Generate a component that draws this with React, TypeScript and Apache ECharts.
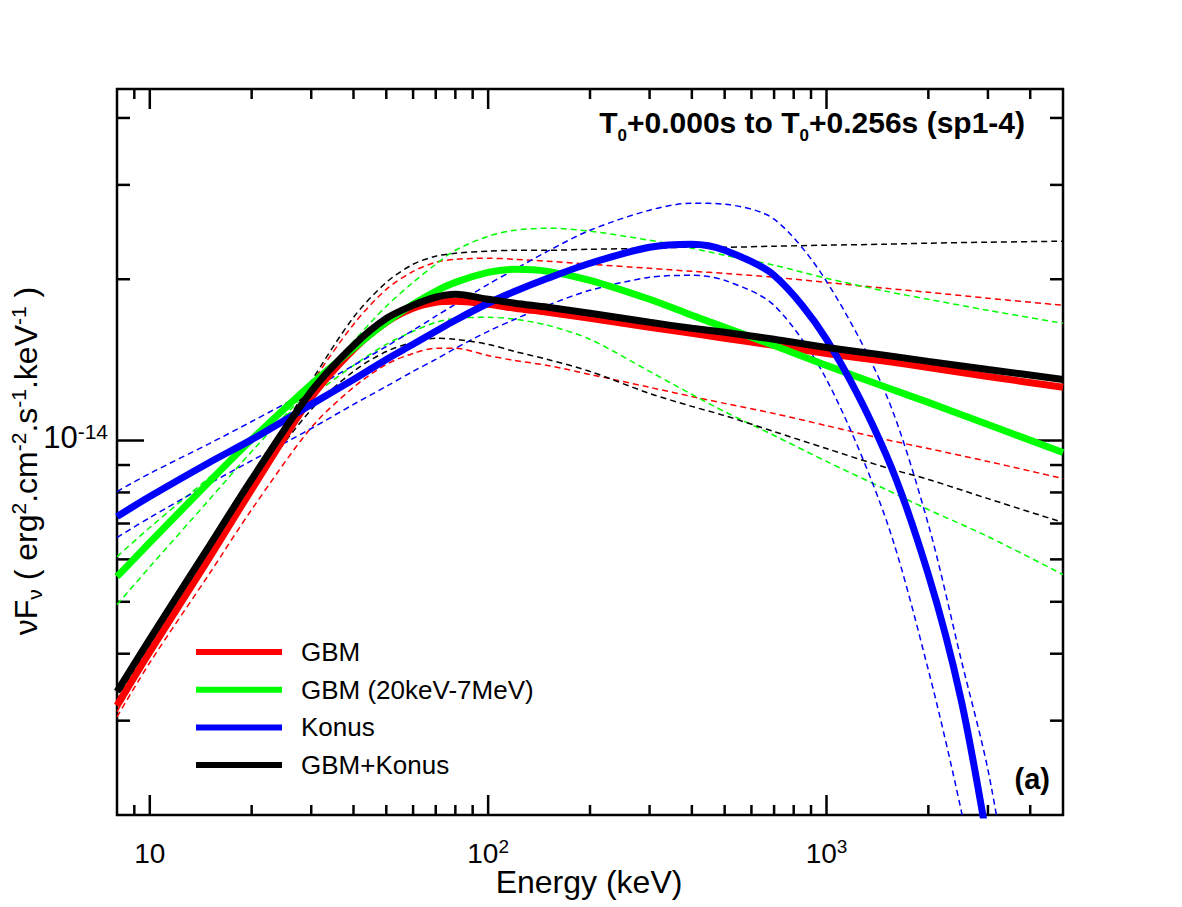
import React, { useEffect, useRef } from 'react';
import * as echarts from 'echarts';

const FONT = '"Liberation Sans", Arial, Helvetica, sans-serif';

// Photon energy grid (keV) for the GBM, GBM (20keV-7MeV) and GBM+Konus curves
const energies = [8, 10, 15, 20, 30, 40, 50, 60, 70, 80, 100, 120, 150, 200, 300, 400, 500, 700, 1000, 1500, 2000, 3000, 5000];
// Konus curves cut off above ~1 MeV and are sampled until they leave the frame
const konusEnergies = [8, 10, 15, 20, 30, 40, 50, 60, 70, 80, 100, 120, 150, 200, 300, 400, 500, 700, 1000, 1500, 2000, 2500, 3000];
const konusUpperEnergies = [8, 10, 15, 20, 30, 40, 50, 60, 70, 80, 100, 120, 150, 200, 300, 400, 500, 700, 1000, 1500, 2000, 2500, 3000, 3500];

// νFν values, in units of 1e-15
const gbmFit = [3.20, 4.03, 6.04, 8.10, 12.03, 14.79, 16.62, 17.65, 18.11, 18.19, 17.96, 17.65, 17.35, 16.91, 16.26, 15.85, 15.52, 15.05, 14.54, 14.05, 13.69, 13.17, 12.57];
const gbmUpper = [3.12, 3.98, 6.12, 8.31, 12.73, 16.47, 19.15, 20.69, 21.51, 21.79, 21.89, 21.79, 21.61, 21.33, 20.96, 20.69, 20.51, 20.17, 19.73, 19.23, 18.91, 18.43, 17.88];
const gbmLower = [3.05, 3.85, 5.64, 7.43, 10.57, 12.57, 13.87, 14.54, 14.86, 14.86, 14.41, 14.10, 13.81, 13.28, 12.57, 12.08, 11.73, 11.23, 10.66, 10.04, 9.66, 9.14, 8.49];

const gbmHighFit = [5.57, 6.45, 8.38, 10.04, 12.73, 14.86, 16.62, 17.96, 18.99, 19.73, 20.60, 20.87, 20.69, 19.91, 18.35, 17.13, 16.26, 15.05, 13.81, 12.57, 11.78, 10.71, 9.50];
const gbmHighUpper = [4.94, 5.81, 7.76, 9.54, 12.57, 15.32, 17.81, 19.73, 21.33, 22.65, 24.06, 24.69, 24.91, 24.59, 23.65, 22.85, 22.17, 21.24, 20.08, 18.99, 18.35, 17.50, 16.55];
const gbmHighLower = [6.07, 6.88, 8.53, 9.92, 12.08, 13.81, 15.12, 15.99, 16.62, 16.91, 16.98, 16.84, 16.41, 15.45, 13.46, 12.19, 11.32, 10.22, 9.14, 8.10, 7.43, 6.62, 5.62];

const konusFit = [7.21, 7.86, 9.10, 10.04, 11.68, 13.00, 14.17, 15.12, 15.99, 16.77, 18.04, 18.99, 20.08, 21.42, 22.95, 23.25, 22.65, 20.34, 15.45, 9.41, 5.62, 3.28, 1.76];
const konusUpper = [8.03, 8.68, 9.87, 10.85, 12.45, 13.81, 14.98, 16.06, 17.06, 17.96, 19.57, 20.87, 22.56, 24.69, 26.91, 27.73, 27.61, 25.89, 19.82, 12.19, 6.97, 3.90, 2.43, 1.39];
const konusLower = [6.59, 7.18, 8.31, 9.17, 10.53, 11.68, 12.62, 13.46, 14.17, 14.86, 15.99, 16.84, 17.88, 19.07, 20.17, 20.34, 19.91, 17.88, 13.00, 7.12, 3.73, 2.04, 1.12];

const jointFit = [3.40, 4.26, 6.36, 8.46, 12.35, 15.05, 16.90, 17.88, 18.51, 18.75, 18.35, 18.04, 17.73, 17.28, 16.62, 16.20, 15.92, 15.45, 14.92, 14.42, 14.05, 13.57, 13.00];
const jointUpper = [3.28, 4.16, 6.26, 8.42, 12.89, 16.98, 19.73, 21.33, 22.08, 22.36, 22.56, 22.65, 22.65, 22.75, 22.85, 22.95, 22.95, 23.05, 23.15, 23.25, 23.35, 23.45, 23.55];
const jointLower = [3.45, 4.32, 6.31, 8.20, 11.42, 13.46, 14.66, 15.25, 15.52, 15.45, 15.12, 14.66, 14.17, 13.46, 12.24, 11.58, 11.13, 10.39, 9.66, 8.90, 8.46, 7.79, 7.03];

// Axis ranges and tick positions
const X_MIN = 8;
const X_MAX = 5000;
const Y_MIN = 2e-15;
const Y_MAX = 4.53e-14;
const xMajorTicks = [10, 100, 1000];
const xMinorTicks = [9, 20, 30, 40, 50, 60, 70, 80, 90, 200, 300, 400, 500, 600, 700, 800, 900, 2000, 3000, 4000];
const yMajorTicks = [1e-14];
const yMinorTicks = [3e-15, 4e-15, 5e-15, 6e-15, 7e-15, 8e-15, 9e-15, 2e-14, 3e-14, 4e-14];

const RED = '#ff0000';
const GREEN = '#00ff00';
const BLUE = '#0000ff';
const BLACK = '#000000';

const toPairs = (xs: number[], ys: number[]) => xs.map((x, i) => [x, ys[i] * 1e-15]);

const solid = (name: string, color: string, xs: number[], ys: number[], z: number) => ({
  name,
  type: 'line',
  data: toPairs(xs, ys),
  showSymbol: false,
  symbol: 'none',
  smooth: 0.3,
  clip: true,
  z,
  itemStyle: { color },
  lineStyle: { color, width: 7 },
});

const dashed = (name: string, color: string, xs: number[], ys: number[]) => ({
  name,
  type: 'line',
  data: toPairs(xs, ys),
  showSymbol: false,
  symbol: 'none',
  smooth: 0.3,
  clip: true,
  z: 2,
  itemStyle: { color },
  lineStyle: { color, width: 1.5, type: [6, 4] },
});

const tickStyle = { stroke: '#000', lineWidth: 2.5 };

// Decade label: "10" followed by a superscript exponent (plain "10" for the first decade)
const decadeLabel = (v: number, plainTen: boolean) => {
  const p = Math.round(Math.log10(v));
  return p === 1 && plainTen ? '{b|10}' : `{b|10}{s|${p}}`;
};

const xTickSeries = {
  type: 'custom',
  silent: true,
  clip: false,
  z: 1,
  encode: { x: 0, y: 1 },
  data: [
    ...xMajorTicks.map((v) => [v, Y_MIN, 1]),
    ...xMinorTicks.map((v) => [v, Y_MIN, 0]),
  ],
  renderItem: (_params: any, api: any) => {
    const v = api.value(0);
    const major = api.value(2) === 1;
    const len = major ? 20 : 10;
    const b = api.coord([v, Y_MIN]);
    const t = api.coord([v, Y_MAX]);
    const children: any[] = [
      { type: 'line', shape: { x1: b[0], y1: b[1], x2: b[0], y2: b[1] - len }, style: tickStyle },
      { type: 'line', shape: { x1: t[0], y1: t[1], x2: t[0], y2: t[1] + len }, style: tickStyle },
    ];
    if (major) {
      children.push({
        type: 'text',
        x: b[0],
        y: b[1] + 38,
        style: {
          text: decadeLabel(v, true),
          align: 'center',
          verticalAlign: 'middle',
          fill: '#000',
          fontFamily: FONT,
          fontSize: 28,
          rich: {
            b: { fontSize: 28, fontFamily: FONT, fill: '#000' },
            s: { fontSize: 19, fontFamily: FONT, fill: '#000', padding: [0, 0, 14, 0] },
          },
        },
      });
    }
    return { type: 'group', children };
  },
};

const yTickSeries = {
  type: 'custom',
  silent: true,
  clip: false,
  z: 1,
  encode: { x: 0, y: 1 },
  data: [
    ...yMajorTicks.map((v) => [X_MIN, v, 1]),
    ...yMinorTicks.map((v) => [X_MIN, v, 0]),
  ],
  renderItem: (_params: any, api: any) => {
    const v = api.value(1);
    const major = api.value(2) === 1;
    const len = major ? 27 : 13;
    const l = api.coord([X_MIN, v]);
    const r = api.coord([X_MAX, v]);
    const children: any[] = [
      { type: 'line', shape: { x1: l[0], y1: l[1], x2: l[0] + len, y2: l[1] }, style: tickStyle },
      { type: 'line', shape: { x1: r[0], y1: r[1], x2: r[0] - len, y2: r[1] }, style: tickStyle },
    ];
    if (major) {
      children.push({
        type: 'text',
        x: l[0] - 9,
        y: l[1] - 3,
        style: {
          text: decadeLabel(v, false),
          align: 'right',
          verticalAlign: 'middle',
          fill: '#000',
          fontFamily: FONT,
          fontSize: 31,
          rich: {
            b: { fontSize: 31, fontFamily: FONT, fill: '#000' },
            s: { fontSize: 21, fontFamily: FONT, fill: '#000', padding: [0, 0, 12, 0] },
          },
        },
      });
    }
    return { type: 'group', children };
  },
};

export default function App() {
  const ref = useRef<HTMLDivElement>(null);

  useEffect(() => {
    if (!ref.current) return;
    const chart = echarts.init(ref.current, null, { renderer: 'svg' });

    const option: any = {
      animation: false,
      backgroundColor: '#ffffff',
      grid: {
        left: 117,
        right: 119,
        top: 89,
        bottom: 92,
        show: true,
        borderColor: '#000',
        borderWidth: 2.5,
        backgroundColor: 'transparent',
      },
      xAxis: {
        type: 'log',
        logBase: 10,
        min: X_MIN,
        max: X_MAX,
        axisLine: { show: false },
        axisTick: { show: false },
        axisLabel: { show: false },
        splitLine: { show: false },
      },
      yAxis: {
        type: 'log',
        logBase: 10,
        min: Y_MIN,
        max: Y_MAX,
        axisLine: { show: false },
        axisTick: { show: false },
        axisLabel: { show: false },
        splitLine: { show: false },
      },
      legend: {
        data: ['GBM', 'GBM (20keV-7MeV)', 'Konus', 'GBM+Konus'],
        orient: 'vertical',
        left: 196,
        top: 639,
        padding: 0,
        itemWidth: 86,
        itemHeight: 6,
        itemGap: 11.7,
        icon: 'rect',
        selectedMode: false,
        textStyle: {
          fontSize: 26,
          fontFamily: FONT,
          color: '#000',
          lineHeight: 25,
          padding: [0, 0, 0, 14],
        },
      },
      graphic: [
        {
          type: 'text',
          x: 1025,
          y: 122,
          style: {
            text: '{b|T}{s|0}{b|+0.000s to T}{s|0}{b|+0.256s (sp1-4)}',
            align: 'right',
            verticalAlign: 'middle',
            fill: '#000',
            fontFamily: FONT,
            fontWeight: 'bold',
            fontSize: 30,
            rich: {
              b: { fontSize: 30, fontWeight: 'bold', fontFamily: FONT, fill: '#000' },
              s: { fontSize: 17, fontWeight: 'bold', fontFamily: FONT, fill: '#000', padding: [26, 0, 0, 0] },
            },
          },
        },
        {
          type: 'text',
          x: 1050,
          y: 779,
          style: {
            text: '(a)',
            align: 'right',
            verticalAlign: 'middle',
            fill: '#000',
            fontFamily: FONT,
            fontWeight: 'bold',
            fontSize: 29,
          },
        },
        {
          type: 'text',
          x: 589,
          y: 882,
          style: {
            text: 'Energy (keV)',
            align: 'center',
            verticalAlign: 'middle',
            fill: '#000',
            fontFamily: FONT,
            fontSize: 32,
          },
        },
        {
          type: 'text',
          x: 26,
          y: 461,
          rotation: Math.PI / 2,
          style: {
            text: 'νF{sub|ν} ( erg{sup|2}.cm{sup|-2}.s{sup|-1}.keV{sup|-1} )',
            align: 'center',
            verticalAlign: 'middle',
            fill: '#000',
            fontFamily: FONT,
            fontSize: 32,
            rich: {
              sub: { fontSize: 21, fontFamily: FONT, fill: '#000', padding: [16, 0, 0, 0] },
              sup: { fontSize: 21, fontFamily: FONT, fill: '#000', padding: [0, 0, 15, 0] },
            },
          },
        },
      ],
      series: [
        xTickSeries,
        yTickSeries,
        dashed('GBM upper', RED, energies, gbmUpper),
        dashed('GBM lower', RED, energies, gbmLower),
        dashed('GBM (20keV-7MeV) upper', GREEN, energies, gbmHighUpper),
        dashed('GBM (20keV-7MeV) lower', GREEN, energies, gbmHighLower),
        dashed('Konus upper', BLUE, konusUpperEnergies, konusUpper),
        dashed('Konus lower', BLUE, konusEnergies, konusLower),
        dashed('GBM+Konus upper', BLACK, energies, jointUpper),
        dashed('GBM+Konus lower', BLACK, energies, jointLower),
        solid('GBM', RED, energies, gbmFit, 3),
        solid('GBM (20keV-7MeV)', GREEN, energies, gbmHighFit, 4),
        solid('Konus', BLUE, konusEnergies, konusFit, 5),
        solid('GBM+Konus', BLACK, energies, jointFit, 6),
      ],
    };

    chart.setOption(option);
    return () => chart.dispose();
  }, []);

  return (
    <div
      ref={ref}
      style={{ position: 'fixed', left: 0, top: 0, width: 1182, height: 907, background: '#fff' }}
    />
  );
}
